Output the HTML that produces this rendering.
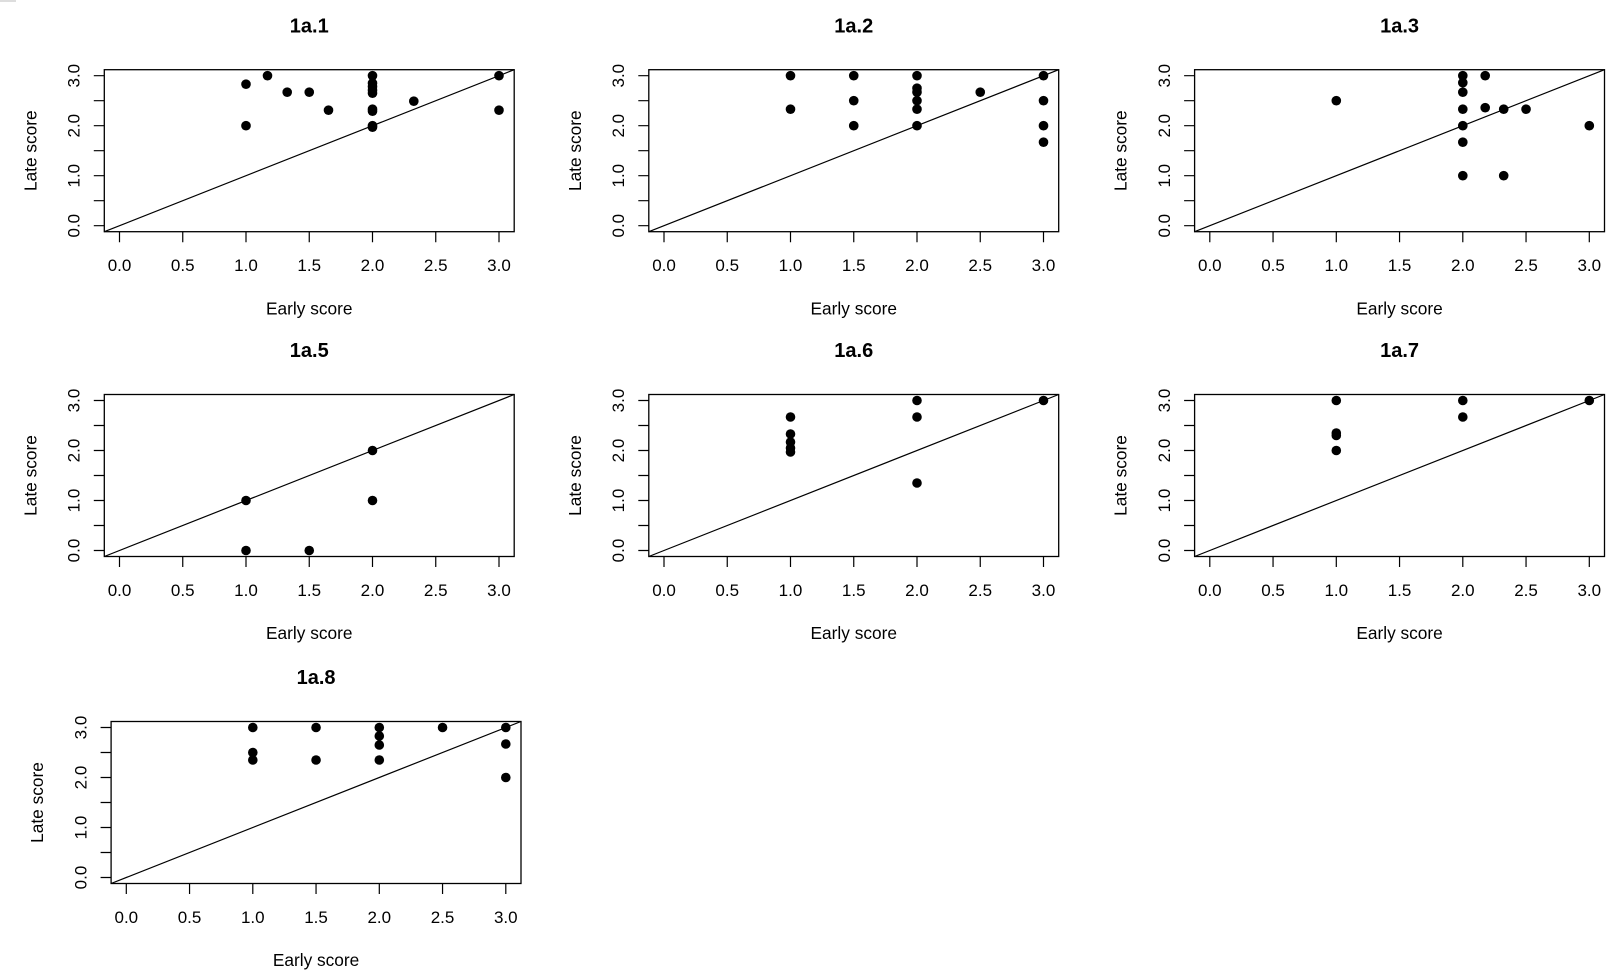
<!DOCTYPE html>
<html>
<head>
<meta charset="utf-8">
<style>
html,body{margin:0;padding:0;background:#fff;}
svg{display:block;}
text{font-family:"Liberation Sans",Arial,sans-serif;fill:#000;}
.t{font-size:17px;text-anchor:middle;}
.a{font-size:17.3px;text-anchor:middle;}
.m{font-size:20px;font-weight:bold;text-anchor:middle;}
.fr{fill:none;stroke:#000;stroke-width:1.3;}
.ln{stroke:#000;stroke-width:1.2;fill:none;}
circle{fill:#000;}
</style>
</head>
<body>
<svg width="1624" height="976" viewBox="0 0 1624 976" xmlns="http://www.w3.org/2000/svg">
<rect x="0" y="0" width="1624" height="976" fill="#fff"/>
<rect x="0" y="0" width="16" height="2" fill="#ddd"/>

<!-- Panel 1a.1 -->
<g transform="translate(119.5,225.7)">
<rect class="fr" x="-15.2" y="-156" width="409.9" height="162"/>
<line class="ln" x1="-15.2" y1="6" x2="394.7" y2="-156"/>
<path class="ln" d="M0,6V16.5M63.25,6V16.5M126.5,6V16.5M189.75,6V16.5M253,6V16.5M316.25,6V16.5M379.5,6V16.5M-15.2,0H-25.7M-15.2,-25H-25.7M-15.2,-50H-25.7M-15.2,-75H-25.7M-15.2,-100H-25.7M-15.2,-125H-25.7M-15.2,-150H-25.7"/>
<text class="t" x="0" y="45.3">0.0</text><text class="t" x="63.25" y="45.3">0.5</text><text class="t" x="126.5" y="45.3">1.0</text><text class="t" x="189.75" y="45.3">1.5</text><text class="t" x="253" y="45.3">2.0</text><text class="t" x="316.25" y="45.3">2.5</text><text class="t" x="379.5" y="45.3">3.0</text>
<text class="t" transform="translate(-39.9,0) rotate(-90)">0.0</text><text class="t" transform="translate(-39.9,-50) rotate(-90)">1.0</text><text class="t" transform="translate(-39.9,-100) rotate(-90)">2.0</text><text class="t" transform="translate(-39.9,-150) rotate(-90)">3.0</text>
<text class="a" transform="translate(-83.2,-75) rotate(-90)">Late score</text>
<text class="a" x="189.75" y="88.6">Early score</text>
<text class="m" x="189.75" y="-193.4">1a.1</text>
<circle cx="126.5" cy="-141.5" r="4.8"/><circle cx="126.5" cy="-100" r="4.8"/><circle cx="148" cy="-150" r="4.8"/><circle cx="167.7" cy="-133.5" r="4.8"/><circle cx="189.75" cy="-133.5" r="4.8"/><circle cx="209" cy="-115.5" r="4.8"/>
<circle cx="253" cy="-150" r="4.8"/><circle cx="253" cy="-142.5" r="4.8"/><circle cx="253" cy="-139" r="4.8"/><circle cx="253" cy="-135.5" r="4.8"/><circle cx="253" cy="-132.5" r="4.8"/><circle cx="253" cy="-116.5" r="4.8"/><circle cx="253" cy="-114.5" r="4.8"/><circle cx="253" cy="-100" r="4.8"/><circle cx="253" cy="-98.5" r="4.8"/>
<circle cx="294.3" cy="-124.5" r="4.8"/><circle cx="379.5" cy="-150" r="4.8"/><circle cx="379.5" cy="-115.5" r="4.8"/>
</g>

<!-- Panel 1a.2 -->
<g transform="translate(664,225.7)">
<rect class="fr" x="-15.2" y="-156" width="409.9" height="162"/>
<line class="ln" x1="-15.2" y1="6" x2="394.7" y2="-156"/>
<path class="ln" d="M0,6V16.5M63.25,6V16.5M126.5,6V16.5M189.75,6V16.5M253,6V16.5M316.25,6V16.5M379.5,6V16.5M-15.2,0H-25.7M-15.2,-25H-25.7M-15.2,-50H-25.7M-15.2,-75H-25.7M-15.2,-100H-25.7M-15.2,-125H-25.7M-15.2,-150H-25.7"/>
<text class="t" x="0" y="45.3">0.0</text><text class="t" x="63.25" y="45.3">0.5</text><text class="t" x="126.5" y="45.3">1.0</text><text class="t" x="189.75" y="45.3">1.5</text><text class="t" x="253" y="45.3">2.0</text><text class="t" x="316.25" y="45.3">2.5</text><text class="t" x="379.5" y="45.3">3.0</text>
<text class="t" transform="translate(-39.9,0) rotate(-90)">0.0</text><text class="t" transform="translate(-39.9,-50) rotate(-90)">1.0</text><text class="t" transform="translate(-39.9,-100) rotate(-90)">2.0</text><text class="t" transform="translate(-39.9,-150) rotate(-90)">3.0</text>
<text class="a" transform="translate(-83.2,-75) rotate(-90)">Late score</text>
<text class="a" x="189.75" y="88.6">Early score</text>
<text class="m" x="189.75" y="-193.4">1a.2</text>
<circle cx="126.5" cy="-150" r="4.8"/><circle cx="126.5" cy="-116.5" r="4.8"/>
<circle cx="189.75" cy="-150" r="4.8"/><circle cx="189.75" cy="-125" r="4.8"/><circle cx="189.75" cy="-100" r="4.8"/>
<circle cx="253" cy="-150" r="4.8"/><circle cx="253" cy="-137.5" r="4.8"/><circle cx="253" cy="-133.5" r="4.8"/><circle cx="253" cy="-125" r="4.8"/><circle cx="253" cy="-116.5" r="4.8"/><circle cx="253" cy="-100" r="4.8"/>
<circle cx="316.25" cy="-133.5" r="4.8"/>
<circle cx="379.5" cy="-150" r="4.8"/><circle cx="379.5" cy="-125" r="4.8"/><circle cx="379.5" cy="-100" r="4.8"/><circle cx="379.5" cy="-83.5" r="4.8"/>
</g>

<!-- Panel 1a.3 -->
<g transform="translate(1209.8,225.7)">
<rect class="fr" x="-15.2" y="-156" width="409.9" height="162"/>
<line class="ln" x1="-15.2" y1="6" x2="394.7" y2="-156"/>
<path class="ln" d="M0,6V16.5M63.25,6V16.5M126.5,6V16.5M189.75,6V16.5M253,6V16.5M316.25,6V16.5M379.5,6V16.5M-15.2,0H-25.7M-15.2,-25H-25.7M-15.2,-50H-25.7M-15.2,-75H-25.7M-15.2,-100H-25.7M-15.2,-125H-25.7M-15.2,-150H-25.7"/>
<text class="t" x="0" y="45.3">0.0</text><text class="t" x="63.25" y="45.3">0.5</text><text class="t" x="126.5" y="45.3">1.0</text><text class="t" x="189.75" y="45.3">1.5</text><text class="t" x="253" y="45.3">2.0</text><text class="t" x="316.25" y="45.3">2.5</text><text class="t" x="379.5" y="45.3">3.0</text>
<text class="t" transform="translate(-39.9,0) rotate(-90)">0.0</text><text class="t" transform="translate(-39.9,-50) rotate(-90)">1.0</text><text class="t" transform="translate(-39.9,-100) rotate(-90)">2.0</text><text class="t" transform="translate(-39.9,-150) rotate(-90)">3.0</text>
<text class="a" transform="translate(-83.2,-75) rotate(-90)">Late score</text>
<text class="a" x="189.75" y="88.6">Early score</text>
<text class="m" x="189.75" y="-193.4">1a.3</text>
<circle cx="126.5" cy="-125" r="4.8"/>
<circle cx="253" cy="-150" r="4.8"/><circle cx="253" cy="-143" r="4.8"/><circle cx="253" cy="-133.5" r="4.8"/><circle cx="253" cy="-116.5" r="4.8"/><circle cx="253" cy="-100" r="4.8"/><circle cx="253" cy="-83.5" r="4.8"/><circle cx="253" cy="-50" r="4.8"/>
<circle cx="275.4" cy="-150" r="4.8"/><circle cx="275.4" cy="-118" r="4.8"/>
<circle cx="293.9" cy="-116.5" r="4.8"/><circle cx="293.9" cy="-50" r="4.8"/>
<circle cx="316.25" cy="-116.5" r="4.8"/>
<circle cx="379.5" cy="-100" r="4.8"/>
</g>

<!-- Panel 1a.5 -->
<g transform="translate(119.5,550.5)">
<rect class="fr" x="-15.2" y="-156" width="409.9" height="162"/>
<line class="ln" x1="-15.2" y1="6" x2="394.7" y2="-156"/>
<path class="ln" d="M0,6V16.5M63.25,6V16.5M126.5,6V16.5M189.75,6V16.5M253,6V16.5M316.25,6V16.5M379.5,6V16.5M-15.2,0H-25.7M-15.2,-25H-25.7M-15.2,-50H-25.7M-15.2,-75H-25.7M-15.2,-100H-25.7M-15.2,-125H-25.7M-15.2,-150H-25.7"/>
<text class="t" x="0" y="45.3">0.0</text><text class="t" x="63.25" y="45.3">0.5</text><text class="t" x="126.5" y="45.3">1.0</text><text class="t" x="189.75" y="45.3">1.5</text><text class="t" x="253" y="45.3">2.0</text><text class="t" x="316.25" y="45.3">2.5</text><text class="t" x="379.5" y="45.3">3.0</text>
<text class="t" transform="translate(-39.9,0) rotate(-90)">0.0</text><text class="t" transform="translate(-39.9,-50) rotate(-90)">1.0</text><text class="t" transform="translate(-39.9,-100) rotate(-90)">2.0</text><text class="t" transform="translate(-39.9,-150) rotate(-90)">3.0</text>
<text class="a" transform="translate(-83.2,-75) rotate(-90)">Late score</text>
<text class="a" x="189.75" y="88.6">Early score</text>
<text class="m" x="189.75" y="-193.4">1a.5</text>
<circle cx="126.5" cy="-50" r="4.8"/><circle cx="126.5" cy="0" r="4.8"/><circle cx="189.75" cy="0" r="4.8"/><circle cx="253" cy="-100" r="4.8"/><circle cx="253" cy="-50" r="4.8"/>
</g>

<!-- Panel 1a.6 -->
<g transform="translate(664,550.5)">
<rect class="fr" x="-15.2" y="-156" width="409.9" height="162"/>
<line class="ln" x1="-15.2" y1="6" x2="394.7" y2="-156"/>
<path class="ln" d="M0,6V16.5M63.25,6V16.5M126.5,6V16.5M189.75,6V16.5M253,6V16.5M316.25,6V16.5M379.5,6V16.5M-15.2,0H-25.7M-15.2,-25H-25.7M-15.2,-50H-25.7M-15.2,-75H-25.7M-15.2,-100H-25.7M-15.2,-125H-25.7M-15.2,-150H-25.7"/>
<text class="t" x="0" y="45.3">0.0</text><text class="t" x="63.25" y="45.3">0.5</text><text class="t" x="126.5" y="45.3">1.0</text><text class="t" x="189.75" y="45.3">1.5</text><text class="t" x="253" y="45.3">2.0</text><text class="t" x="316.25" y="45.3">2.5</text><text class="t" x="379.5" y="45.3">3.0</text>
<text class="t" transform="translate(-39.9,0) rotate(-90)">0.0</text><text class="t" transform="translate(-39.9,-50) rotate(-90)">1.0</text><text class="t" transform="translate(-39.9,-100) rotate(-90)">2.0</text><text class="t" transform="translate(-39.9,-150) rotate(-90)">3.0</text>
<text class="a" transform="translate(-83.2,-75) rotate(-90)">Late score</text>
<text class="a" x="189.75" y="88.6">Early score</text>
<text class="m" x="189.75" y="-193.4">1a.6</text>
<circle cx="126.5" cy="-133.5" r="4.8"/><circle cx="126.5" cy="-116.5" r="4.8"/><circle cx="126.5" cy="-108.5" r="4.8"/><circle cx="126.5" cy="-102.5" r="4.8"/><circle cx="126.5" cy="-98.5" r="4.8"/>
<circle cx="253" cy="-150" r="4.8"/><circle cx="253" cy="-133.5" r="4.8"/><circle cx="253" cy="-67.5" r="4.8"/>
<circle cx="379.5" cy="-150" r="4.8"/>
</g>

<!-- Panel 1a.7 -->
<g transform="translate(1209.8,550.5)">
<rect class="fr" x="-15.2" y="-156" width="409.9" height="162"/>
<line class="ln" x1="-15.2" y1="6" x2="394.7" y2="-156"/>
<path class="ln" d="M0,6V16.5M63.25,6V16.5M126.5,6V16.5M189.75,6V16.5M253,6V16.5M316.25,6V16.5M379.5,6V16.5M-15.2,0H-25.7M-15.2,-25H-25.7M-15.2,-50H-25.7M-15.2,-75H-25.7M-15.2,-100H-25.7M-15.2,-125H-25.7M-15.2,-150H-25.7"/>
<text class="t" x="0" y="45.3">0.0</text><text class="t" x="63.25" y="45.3">0.5</text><text class="t" x="126.5" y="45.3">1.0</text><text class="t" x="189.75" y="45.3">1.5</text><text class="t" x="253" y="45.3">2.0</text><text class="t" x="316.25" y="45.3">2.5</text><text class="t" x="379.5" y="45.3">3.0</text>
<text class="t" transform="translate(-39.9,0) rotate(-90)">0.0</text><text class="t" transform="translate(-39.9,-50) rotate(-90)">1.0</text><text class="t" transform="translate(-39.9,-100) rotate(-90)">2.0</text><text class="t" transform="translate(-39.9,-150) rotate(-90)">3.0</text>
<text class="a" transform="translate(-83.2,-75) rotate(-90)">Late score</text>
<text class="a" x="189.75" y="88.6">Early score</text>
<text class="m" x="189.75" y="-193.4">1a.7</text>
<circle cx="126.5" cy="-150" r="4.8"/><circle cx="126.5" cy="-117.5" r="4.8"/><circle cx="126.5" cy="-115" r="4.8"/><circle cx="126.5" cy="-100" r="4.8"/>
<circle cx="253" cy="-150" r="4.8"/><circle cx="253" cy="-133.5" r="4.8"/>
<circle cx="379.5" cy="-150" r="4.8"/>
</g>

<!-- Panel 1a.8 -->
<g transform="translate(126.3,877.5)">
<rect class="fr" x="-15.2" y="-156" width="409.9" height="162"/>
<line class="ln" x1="-15.2" y1="6" x2="394.7" y2="-156"/>
<path class="ln" d="M0,6V16.5M63.25,6V16.5M126.5,6V16.5M189.75,6V16.5M253,6V16.5M316.25,6V16.5M379.5,6V16.5M-15.2,0H-25.7M-15.2,-25H-25.7M-15.2,-50H-25.7M-15.2,-75H-25.7M-15.2,-100H-25.7M-15.2,-125H-25.7M-15.2,-150H-25.7"/>
<text class="t" x="0" y="45.3">0.0</text><text class="t" x="63.25" y="45.3">0.5</text><text class="t" x="126.5" y="45.3">1.0</text><text class="t" x="189.75" y="45.3">1.5</text><text class="t" x="253" y="45.3">2.0</text><text class="t" x="316.25" y="45.3">2.5</text><text class="t" x="379.5" y="45.3">3.0</text>
<text class="t" transform="translate(-39.9,0) rotate(-90)">0.0</text><text class="t" transform="translate(-39.9,-50) rotate(-90)">1.0</text><text class="t" transform="translate(-39.9,-100) rotate(-90)">2.0</text><text class="t" transform="translate(-39.9,-150) rotate(-90)">3.0</text>
<text class="a" transform="translate(-83.2,-75) rotate(-90)">Late score</text>
<text class="a" x="189.75" y="88.6">Early score</text>
<text class="m" x="189.75" y="-193.4">1a.8</text>
<circle cx="126.5" cy="-150" r="4.8"/><circle cx="126.5" cy="-125" r="4.8"/><circle cx="126.5" cy="-117.5" r="4.8"/>
<circle cx="189.75" cy="-150" r="4.8"/><circle cx="189.75" cy="-117.5" r="4.8"/>
<circle cx="253" cy="-150" r="4.8"/><circle cx="253" cy="-141.5" r="4.8"/><circle cx="253" cy="-132.5" r="4.8"/><circle cx="253" cy="-117.5" r="4.8"/>
<circle cx="316.25" cy="-150" r="4.8"/>
<circle cx="379.5" cy="-150" r="4.8"/><circle cx="379.5" cy="-133.5" r="4.8"/><circle cx="379.5" cy="-100" r="4.8"/>
</g>
</svg>
</body>
</html>
